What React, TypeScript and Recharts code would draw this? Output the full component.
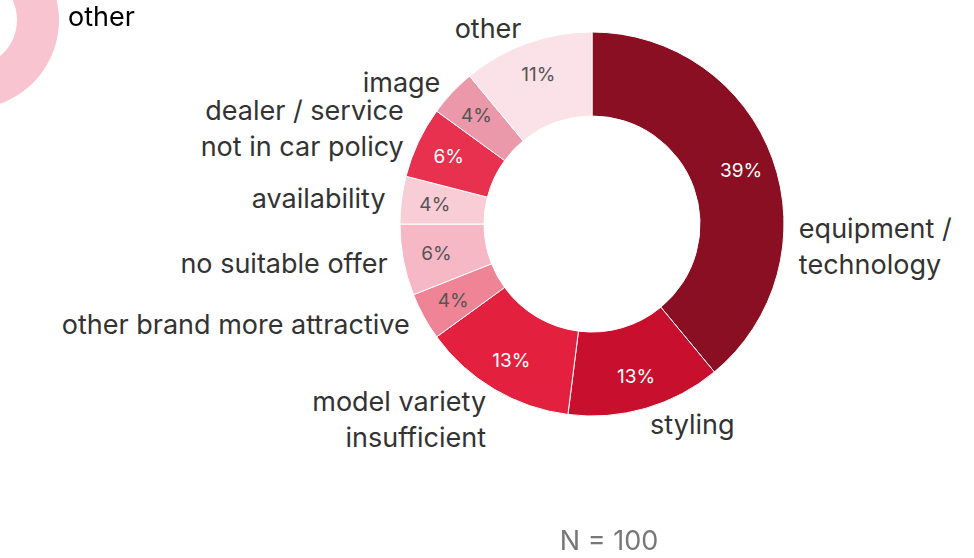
import { PieChart, Pie, Cell } from 'recharts'

// reasons (clockwise from 12 o'clock)
const reasons = [
  'equipment /\ntechnology',
  'styling',
  'model variety\ninsufficient',
  'other brand more attractive',
  'no suitable offer',
  'availability',
  'dealer / service\nnot in car policy',
  'image',
  'other',
]
const shares = [39, 13, 13, 4, 6, 4, 6, 4, 11]
const colors = [
  '#8a0f22',
  '#c8102e',
  '#e4203f',
  '#ef8497',
  '#f5b8c4',
  '#f8cdd6',
  '#e8304f',
  '#ea98aa',
  '#fbe2e8',
]

// the highlighted "other" ring in the corner
const highlightNames = ['other']
const highlightValues = [11]

const chartData = reasons.map((name, i) => ({ name, value: shares[i] }))
const highlightData = highlightNames.map((name, i) => ({ name, value: highlightValues[i] }))

const RAD = Math.PI / 180
const FONT = 'Inter, "Noto Sans", sans-serif'

// dark slices get white percentages, light ones gray
function isDark(hex: string) {
  const r = parseInt(hex.slice(1, 3), 16)
  const g = parseInt(hex.slice(3, 5), 16)
  const b = parseInt(hex.slice(5, 7), 16)
  return 0.299 * r + 0.587 * g + 0.114 * b < 140
}

function renderLabel(props: any) {
  const { cx, cy, midAngle, innerRadius, outerRadius, index, percent } = props
  // percentage inside the ring
  const pr = innerRadius + (outerRadius - innerRadius) * 0.6
  const px = cx + pr * Math.cos(-midAngle * RAD)
  const py = cy + pr * Math.sin(-midAngle * RAD)

  // big slice keeps its label roughly level with the centre
  const a = percent > 0.3 ? (Math.cos(midAngle * RAD) >= 0 ? -6 : 186) : midAngle
  const r = outerRadius + 16
  const x = cx + r * Math.cos(-a * RAD)
  const y = cy + r * Math.sin(-a * RAD)
  const lines = reasons[index].split('\n')
  const lh = 36
  // multi-line blocks grow away from the ring
  const shift = percent > 0.3 ? 0 : -Math.sin(a * RAD) * ((lines.length - 1) * lh) / 2
  const y0 = y + shift - ((lines.length - 1) * lh) / 2

  return (
    <g>
      <text
        x={px}
        y={py}
        textAnchor="middle"
        dominantBaseline="central"
        fontSize={19}
        fontFamily={FONT}
        fill={isDark(colors[index]) ? '#ffffff' : '#555555'}
      >
        {shares[index]}%
      </text>
      <text
        x={x}
        y={y0}
        textAnchor={x > cx ? 'start' : 'end'}
        dominantBaseline="central"
        fontSize={27}
        fontFamily={FONT}
        fill="#333333"
      >
        {lines.map((l, i) => (
          <tspan key={i} x={x} y={y0 + i * lh}>
            {l}
          </tspan>
        ))}
      </text>
    </g>
  )
}

export default function App() {
  return (
    <div style={{ position: 'fixed', left: 0, top: 0, width: 974, height: 558, background: '#fff' }}>
      <PieChart width={974} height={558} margin={{ top: 0, right: 0, bottom: 0, left: 0 }}>
        <Pie
          data={highlightData}
          dataKey="value"
          nameKey="name"
          cx={-30}
          cy={20}
          innerRadius={47}
          outerRadius={89}
          startAngle={90}
          endAngle={-270}
          stroke="none"
          isAnimationActive={false}
        >
          {highlightData.map((d) => (
            <Cell key={d.name} fill="#f8c4d0" />
          ))}
        </Pie>
        <Pie
          data={chartData}
          dataKey="value"
          nameKey="name"
          cx={592}
          cy={224}
          innerRadius={108}
          outerRadius={192}
          startAngle={90}
          endAngle={-270}
          stroke="#ffffff"
          strokeWidth={1}
          label={renderLabel}
          labelLine={false}
          isAnimationActive={false}
        >
          {chartData.map((d, i) => (
            <Cell key={d.name} fill={colors[i]} />
          ))}
        </Pie>
      </PieChart>
      <div
        style={{
          position: 'absolute',
          left: 68,
          top: -1,
          fontFamily: FONT,
          fontSize: 27,
          lineHeight: '36px',
          color: '#000',
        }}
      >
        other
      </div>
      <div
        style={{
          position: 'absolute',
          left: 509,
          width: 200,
          top: 523,
          textAlign: 'center',
          fontFamily: FONT,
          fontSize: 27,
          lineHeight: '36px',
          color: '#777',
        }}
      >
        N = 100
      </div>
    </div>
  )
}
